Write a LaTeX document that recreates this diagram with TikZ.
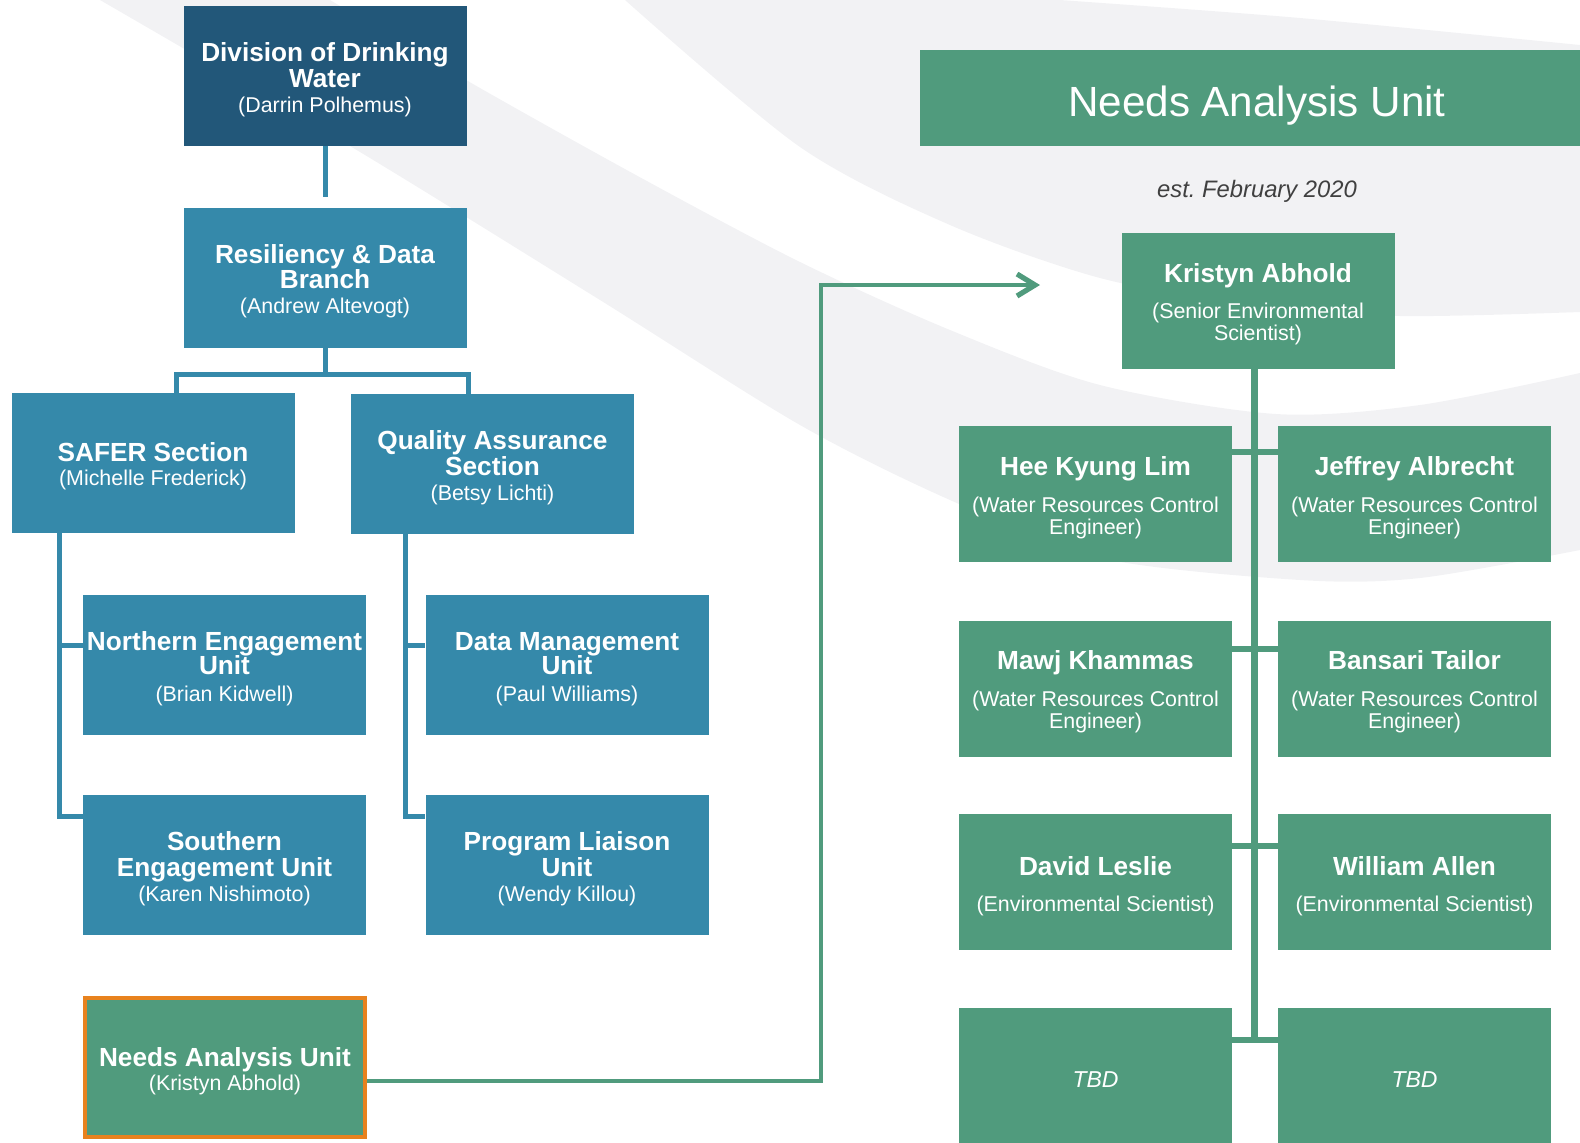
\documentclass[tikz,border=0pt]{standalone}
\usepackage{fontspec}
\setmainfont{Liberation Sans}
\usetikzlibrary{arrows.meta}
\lineskiplimit=-\maxdimen
\definecolor{dkblue}{RGB}{34,87,121}
\definecolor{mdblue}{RGB}{53,137,170}
\definecolor{grn}{RGB}{80,155,125}
\definecolor{orng}{RGB}{232,130,30}
\definecolor{bggray}{RGB}{242,242,244}
\definecolor{estgray}{RGB}{64,64,64}
\newcommand\ttl[1]{{\fontsize{13.1pt}{11pt}\selectfont\bfseries #1}}
\newcommand\up{\rule{0pt}{13.2pt}}
\tikzset{
  orgbox/.style={rectangle, fill=mdblue, text=white, align=center, inner sep=0pt,
    minimum width=141.5pt, minimum height=70pt, font=\fontsize{10.7pt}{11pt}\selectfont},
  topbox/.style={orgbox, fill=dkblue},
  teambox/.style={orgbox, fill=grn, minimum width=136.5pt, minimum height=68pt},
  tbdbox/.style={teambox, font=\itshape\fontsize{11.5pt}{12pt}\selectfont},
  bluelink/.style={draw=mdblue, line width=2.5pt},
  greenlink/.style={draw=grn, line width=2pt},
  trunk/.style={draw=grn, line width=3.5pt},
  rowlink/.style={draw=grn, line width=3pt},
}
\begin{document}
\begin{tikzpicture}[x=0.5pt, y=-0.5pt]
\useasboundingbox (0,0) rectangle (1580,1142);
\clip (0,0) rectangle (1580,1142);
% background swooshes
\fill[bggray] plot[smooth] coordinates {(330,0) (480,88) (645,180) (800,262) (950,330) (1100,385) (1276,414) (1420,405) (1580,373)}
  -- plot[smooth] coordinates {(1580,550) (1420,578) (1300,580) (1100,558) (950,500) (800,425) (600,300) (355,149) (100,0)} -- cycle;
\fill[bggray] plot[smooth] coordinates {(625,0) (800,147) (950,225) (1100,278) (1250,305) (1400,316) (1580,312)}
  -- plot[smooth] coordinates {(1580,45) (1300,18) (1060,0)} -- cycle;

% left org chart
\node[topbox] (div) at (325,76) {\up\ttl{Division of Drinking}\\[1.75pt]\ttl{Water}\\[1.5pt](Darrin Polhemus)};
\node[orgbox] (res) at (325,277.5) {\up\ttl{Resiliency \& Data}\\[1.75pt]\ttl{Branch}\\[1.5pt](Andrew Altevogt)};
\node[orgbox] (safer) at (153,463) {\up\ttl{SAFER Section}\\[1pt](Michelle Frederick)};
\node[orgbox] (qa) at (492.5,464) {\up\ttl{Quality Assurance}\\[1.75pt]\ttl{Section}\\[1.5pt](Betsy Lichti)};
\node[orgbox] (north) at (224.5,665) {\up\ttl{Northern Engagement}\\[1.25pt]\ttl{Unit}\\[2.5pt](Brian Kidwell)};
\node[orgbox] (south) at (224.5,865) {\up\ttl{Southern}\\[1.75pt]\ttl{Engagement Unit}\\[1.5pt](Karen Nishimoto)};
\node[orgbox] (dm) at (567,665) {\up\ttl{Data Management}\\[1.25pt]\ttl{Unit}\\[2.5pt](Paul Williams)};
\node[orgbox] (pl) at (567,865) {\up\ttl{Program Liaison}\\[1.75pt]\ttl{Unit}\\[1.5pt](Wendy Killou)};
\node[orgbox, fill=grn, draw=orng, line width=2pt, minimum width=140pt, minimum height=69.5pt] (nau) at (225,1067.5) {\up\ttl{Needs Analysis Unit}\\[1pt](Kristyn Abhold)};

\coordinate (barL) at (176,374);
\coordinate (barR) at (468,374);
\coordinate (s1) at (59,645);
\coordinate (s2) at (59,816);
\coordinate (q1) at (405,645);
\coordinate (q2) at (405,816);
\draw[bluelink] (div.south) -- ([yshift=5pt]res.north);
\draw[bluelink] (res.south) -- (res.south |- barL);
\draw[bluelink] (safer.north -| barL) -- (barL) -- (barR) -- (qa.north -| barR);
\draw[bluelink] (safer.south -| s1) -- (s2) -- (south.west |- s2);
\draw[bluelink] (s1) -- (north.west |- s1);
\draw[bluelink] (qa.south -| q1) -- (q2) -- (pl.west |- q2);
\draw[bluelink] (q1) -- (dm.west |- q1);

% right panel
\node[rectangle, fill=grn, text=white, inner sep=0pt, minimum width=337pt, minimum height=48pt,
  font=\fontsize{21.1pt}{24pt}\selectfont] (hdr) at (1257,98) {\rule{0pt}{22.4pt}Needs Analysis Unit};
\node[text=estgray, inner sep=0pt, font=\itshape\fontsize{11.9pt}{13pt}\selectfont] (est) at (1257,191) {est.\ February 2020};

\node[teambox] (kr) at (1258,301) {\up\ttl{Kristyn Abhold}\\[7pt](Senior Environmental\\Scientist)};
\node[teambox] (hk) at (1095.5,494) {\up\ttl{Hee Kyung Lim}\\[7.5pt](Water Resources Control\\Engineer)};
\node[teambox] (ja) at (1414.5,494) {\up\ttl{Jeffrey Albrecht}\\[7.5pt](Water Resources Control\\Engineer)};
\node[teambox] (mk) at (1095.5,688.5) {\up\ttl{Mawj Khammas}\\[7.5pt](Water Resources Control\\Engineer)};
\node[teambox] (bt) at (1414.5,688.5) {\up\ttl{Bansari Tailor}\\[7.5pt](Water Resources Control\\Engineer)};
\node[teambox] (dl) at (1095.5,882) {\up\ttl{David Leslie}\\[7pt](Environmental Scientist)};
\node[teambox] (wa) at (1414.5,882) {\up\ttl{William Allen}\\[7pt](Environmental Scientist)};
\node[tbdbox] (tbd1) at (1095.5,1076) {\rule{0pt}{11.3pt}TBD};
\node[tbdbox] (tbd2) at (1414.5,1076) {\rule{0pt}{11.3pt}TBD};

\coordinate (tb) at (1254,1040);
\coordinate (r1) at (1254,452);
\coordinate (r2) at (1254,649);
\coordinate (r3) at (1254,846);
\draw[trunk] (kr.south -| tb) -- (tb);
\draw[rowlink] (hk.east |- r1) -- (ja.west |- r1);
\draw[rowlink] (mk.east |- r2) -- (bt.west |- r2);
\draw[rowlink] (dl.east |- r3) -- (wa.west |- r3);
\draw[rowlink] (tbd1.east |- tb) -- (tbd2.west |- tb);

% link from left unit to right panel
\coordinate (g1) at (821,1081);
\coordinate (g2) at (821,285);
\coordinate (gtip) at (1040,285);
\draw[greenlink, -{Straight Barb[length=9pt,width=11pt,line width=2.6pt]}] (nau.east |- g1) -- (g1) -- (g2) -- (gtip);
\end{tikzpicture}
\end{document}
